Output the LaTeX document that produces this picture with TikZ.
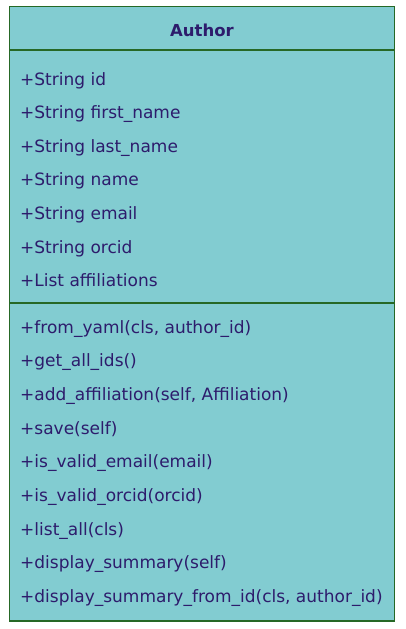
\documentclass[tikz,border=0pt]{standalone}
\usepackage{fontspec}
\setmainfont{DejaVu Sans}
\definecolor{classfill}{RGB}{130,204,209}
\definecolor{classline}{RGB}{38,104,38}
\definecolor{classtext}{RGB}{45,28,108}
\tikzset{
  member/.style={anchor=base west, inner sep=0pt, text=classtext, font=\fontsize{17}{19}\selectfont},
  title/.style={anchor=base, inner sep=0pt, text=classtext, font=\fontsize{16.5}{19}\selectfont\bfseries}
}
\begin{document}
\begin{tikzpicture}[x=1pt, y=-1pt]
\useasboundingbox (0,0) rectangle (406,629);
% Draw the class box and its compartments
\draw[classline, line width=1.5pt, fill=classfill] (9.5,6.5) rectangle (394.5,621);
\draw[classline, line width=1.5pt] (9.5,50) -- (394.5,50);
\draw[classline, line width=1.5pt] (9.5,303) -- (394.5,303);

% Class name
\node[title] (name) at (202,36.7) {Author};

% Attributes
\node[member] (id) at (20,85) {+String id};
\node[member] (first) at (20,118.6) {+String first\_name};
\node[member] (last) at (20,152.2) {+String last\_name};
\node[member] (fullname) at (20,185.8) {+String name};
\node[member] (email) at (20,219.4) {+String email};
\node[member] (orcid) at (20,253) {+String orcid};
\node[member] (affil) at (20,286.6) {+List affiliations};

% Methods
\node[member] (fromyaml) at (20,333) {+from\_yaml(cls, author\_id)};
\node[member] (allids) at (20,366.7) {+get\_all\_ids()};
\node[member] (addaffil) at (20,400.4) {+add\_affiliation(self, Affiliation)};
\node[member] (save) at (20,434.1) {+save(self)};
\node[member] (validemail) at (20,467.8) {+is\_valid\_email(email)};
\node[member] (validorcid) at (20,501.5) {+is\_valid\_orcid(orcid)};
\node[member] (listall) at (20,535.2) {+list\_all(cls)};
\node[member] (summary) at (20,568.9) {+display\_summary(self)};
\node[member] (summaryid) at (20,602.6) {+display\_summary\_from\_id(cls, author\_id)};
\end{tikzpicture}
\end{document}
